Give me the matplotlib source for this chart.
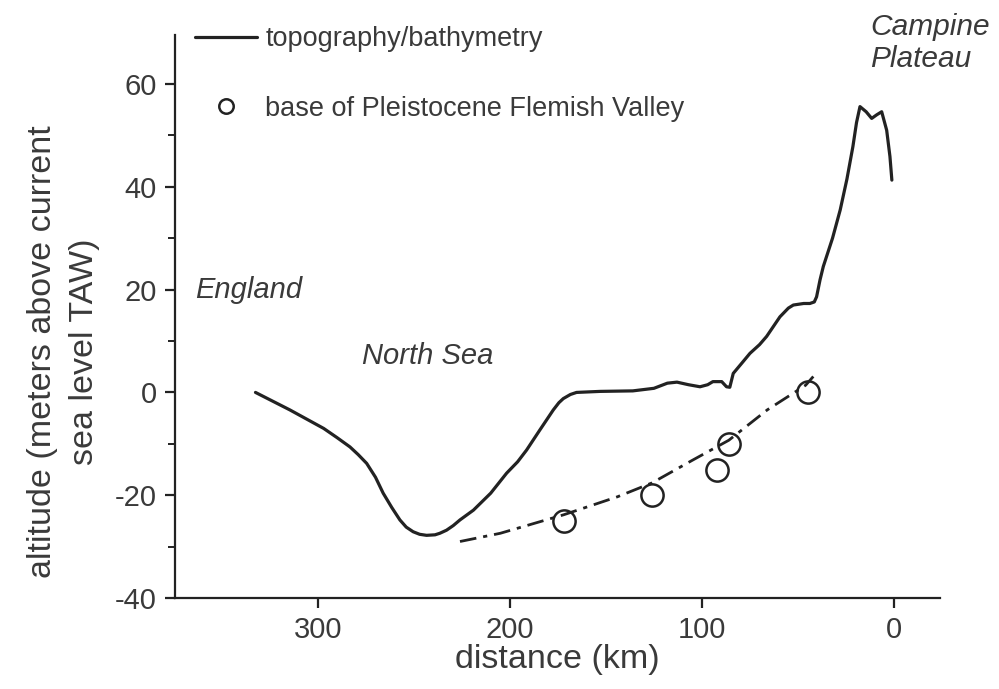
import matplotlib
matplotlib.use("Agg")
import matplotlib.pyplot as plt
from matplotlib.ticker import MultipleLocator

plt.rcParams['font.family'] = ['Liberation Sans', 'DejaVu Sans']
plt.rcParams['axes.unicode_minus'] = False

# topography / bathymetry profile (distance km, altitude m TAW)
topo_dist = [332.5, 314.6, 297, 290, 283.3, 279, 274.6, 270, 266, 261.5,
             257.3, 254, 250.4, 247, 243.4, 239, 236.5, 233, 229.5, 226, 219,
             210, 201.7, 196, 191.3, 184.4, 177.4, 174.5, 172.2, 168.5, 165.3,
             153, 136, 125, 118, 113, 107, 101, 97, 94.3, 89.7, 87.2, 85.5,
             83.7, 79, 75, 70, 66.3, 59.4, 55, 52.4, 47, 43.8, 41.5, 40.3,
             38.5, 36.8, 32, 28, 24.5, 21.4, 19.5, 17.7, 14.5, 11.6, 9, 6.4,
             3.8, 2.1, 1.1]
topo_alt = [0, -3.4, -7, -8.8, -10.6, -12.1, -13.8, -16.5, -19.6, -22.4,
            -24.8, -26.2, -27.1, -27.6, -27.8, -27.7, -27.4, -26.8, -25.9,
            -24.8, -22.9, -19.6, -15.7, -13.5, -11.2, -7.3, -3.4, -2.0, -1.2,
            -0.4, 0, 0.2, 0.3, 0.8, 1.8, 2, 1.5, 1.1, 1.5, 2.1, 2.1, 1.1, 1.0,
            3.7, 5.8, 7.6, 9.3, 10.9, 14.7, 16.4, 17.0, 17.3, 17.3, 17.6, 18.6,
            21.9, 24.5, 30, 35.5, 41.5, 47.8, 52.5, 55.6, 54.6, 53.3, 54, 54.6,
            51, 45.9, 41.3]

# base of Pleistocene Flemish Valley
base_dist = [172, 126, 92, 86, 45]
base_alt = [-25, -20, -15, -10, 0]

# fitted trend through the valley base
fit_dist = [226, 205, 172, 144, 126, 105, 86, 66, 46, 42]
fit_alt = [-29, -27.4, -23.8, -20.3, -17.6, -13.2, -9.3, -3.4, 1.4, 3.1]

fig = plt.figure(figsize=(9.99, 6.89), dpi=100)
ax = fig.add_axes([0.175, 0.132, 0.766, 0.817])

txt = '#3a3a3a'
ax.plot(topo_dist, topo_alt, color='#222222', lw=2.3, solid_joinstyle='round',
        solid_capstyle='round', label='topography/bathymetry')
ax.plot(fit_dist, fit_alt, color='#222222', lw=2.0, ls=(0, (6, 2.5, 1.5, 2.5)))
ax.plot(base_dist, base_alt, ls='none', marker='o', ms=16, mfc='none',
        mec='#222222', mew=1.8, label='base of Pleistocene Flemish Valley')

ax.set_xlim(374.5, -24)
ax.set_ylim(-40, 69.5)
ax.xaxis.set_major_locator(MultipleLocator(100))
ax.yaxis.set_major_locator(MultipleLocator(20))
ax.yaxis.set_minor_locator(MultipleLocator(10))

for s in ['top', 'right']:
    ax.spines[s].set_visible(False)
for s in ['left', 'bottom']:
    ax.spines[s].set_linewidth(1.6)
    ax.spines[s].set_color('#222222')
ax.tick_params(which='major', direction='out', length=7, width=1.6,
               labelsize=21, labelcolor=txt, color='#222222', pad=6)
ax.tick_params(which='minor', direction='out', length=5, width=1.4, color='#222222')

ax.set_xlabel('distance (km)', fontsize=24.5, color=txt, labelpad=0)
ax.set_ylabel('altitude (meters above current\nsea level TAW)', fontsize=24.5,
              color=txt, linespacing=1.45)
ax.yaxis.set_label_coords(-0.098, 0.437)

ax.text(364, 20, 'England', fontsize=21, style='italic', color=txt,
        ha='left', va='center')
ax.text(277, 7, 'North Sea', fontsize=21, style='italic', color=txt,
        ha='left', va='center')
ax.text(12.5, 68, 'Campine\nPlateau', fontsize=21.5, style='italic', color=txt,
        ha='left', va='center', linespacing=1.2, clip_on=False)

leg = ax.legend(loc='upper left', frameon=False, fontsize=19.5, handlelength=2.3,
                labelspacing=1.6, markerscale=0.65, borderaxespad=0.0,
                bbox_to_anchor=(0.012, 1.035), handletextpad=0.3)
for t in leg.get_texts():
    t.set_color(txt)

fig.savefig('out.png', dpi=100)
